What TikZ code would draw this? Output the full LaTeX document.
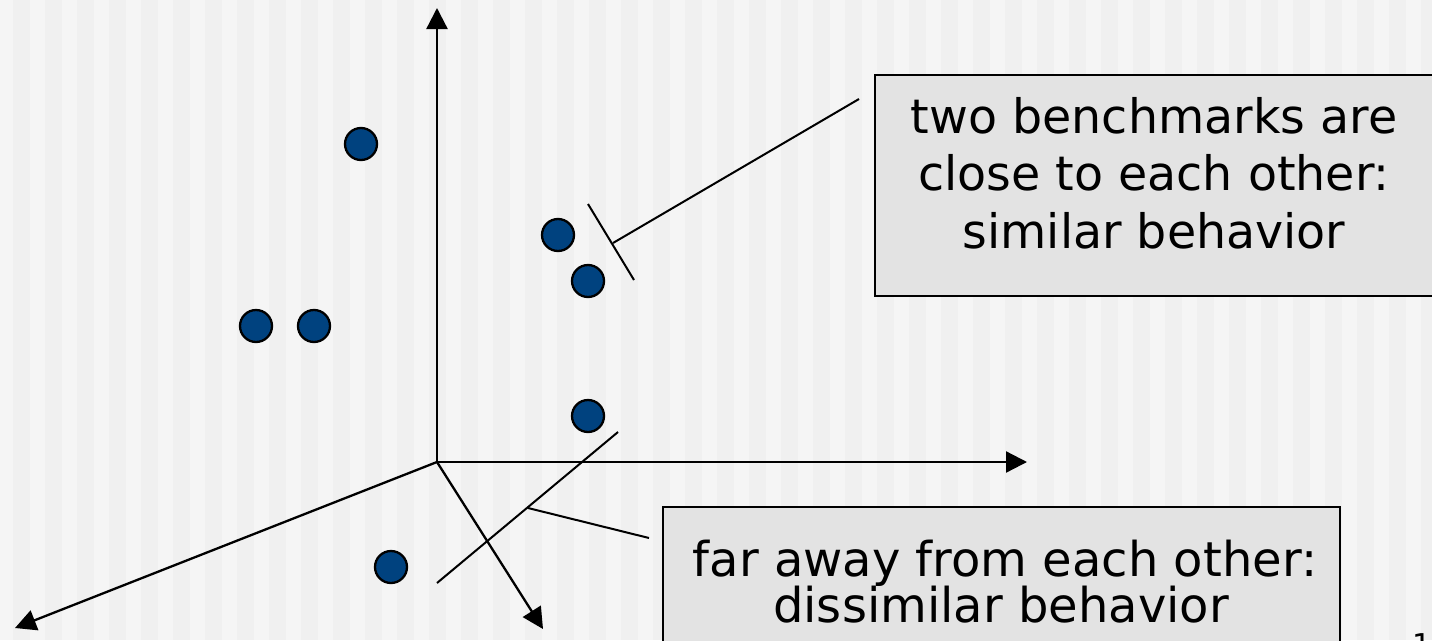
\documentclass[tikz,border=0pt]{standalone}
\usepackage{fontspec}
\setmainfont{DejaVu Sans}
\usetikzlibrary{arrows.meta}
\definecolor{bgA}{RGB}{245,245,245}
\definecolor{bgB}{RGB}{240,240,240}
\definecolor{dotblue}{RGB}{0,66,127}
\definecolor{boxgray}{RGB}{227,227,227}
\tikzset{
  axis/.style={line width=2.3pt,-{Triangle[length=21pt,width=21pt]}},
  thinline/.style={line width=2pt},
  dot/.style={circle,draw=black,line width=2.3pt,fill=dotblue,minimum size=32pt,inner sep=0pt},
  callbox/.style={draw=black,line width=2pt,fill=boxgray,inner sep=0pt},
  lineA/.style={anchor=base,inner sep=0pt,font=\fontsize{47.5}{57}\selectfont},
  lineB/.style={anchor=base,inner sep=0pt,font=\fontsize{48}{46}\selectfont},
}
\begin{document}
\begin{tikzpicture}[x=1pt,y=-1pt]
\useasboundingbox (0,0) rectangle (1432,640);
\fill[bgA] (0,0) rectangle (1432,640);
\foreach \i in {0,...,44} {
  \fill[bgB] ({13+32*\i},0) rectangle ({30+32*\i},640);
}
% axes
\coordinate (O) at (437,462);
\coordinate (yend) at (437,8);
\coordinate (xend) at (1027,462);
\coordinate (zl) at (15,628);
\coordinate (zr) at (543,629);
\draw[axis] (O) -- (yend);
\draw[axis] (O) -- (xend);
\draw[axis] (O) -- (zl);
\draw[axis] (O) -- (zr);
% dots
\node[dot] (d1) at (361,144) {};
\node[dot] (d2) at (558,235) {};
\node[dot] (d3) at (588,281) {};
\node[dot] (d4) at (256,326) {};
\node[dot] (d5) at (314,326) {};
\node[dot] (d6) at (588,416) {};
\node[dot] (d7) at (391,567) {};
% callout boxes
\node[callbox,minimum width=558pt,minimum height=221pt] (boxA) at (1154,185.5) {};
\node[lineA] (a1) at (1154,133) {two benchmarks are};
\node[lineA] (a2) at (1154,190) {close to each other:};
\node[lineA] (a3) at (1154,248) {similar behavior};
\node[callbox,minimum width=677pt,minimum height=160pt] (boxB) at (1001,587) {};
\node[lineB] (b1) at (1005,576) {far away from each other:};
\node[lineB] (b2) at (1001,622) {dissimilar behavior};
\node[anchor=north,inner sep=0pt,font=\fontsize{30}{36}\selectfont] (pg) at (1422,633) {1};
% similarity marker
\coordinate (t1) at (588,204);
\coordinate (t2) at (634,280);
\coordinate (tm) at (613,243);
\coordinate (cA) at (859,99);
\draw[thinline] (t1) -- (t2);
\draw[thinline] (tm) -- (cA);
% dissimilarity marker
\coordinate (l1) at (437,583);
\coordinate (l2) at (618,432);
\coordinate (lm) at (528,508);
\coordinate (cB) at (649,538);
\draw[thinline] (l1) -- (l2);
\draw[thinline] (lm) -- (cB);
\end{tikzpicture}
\end{document}
